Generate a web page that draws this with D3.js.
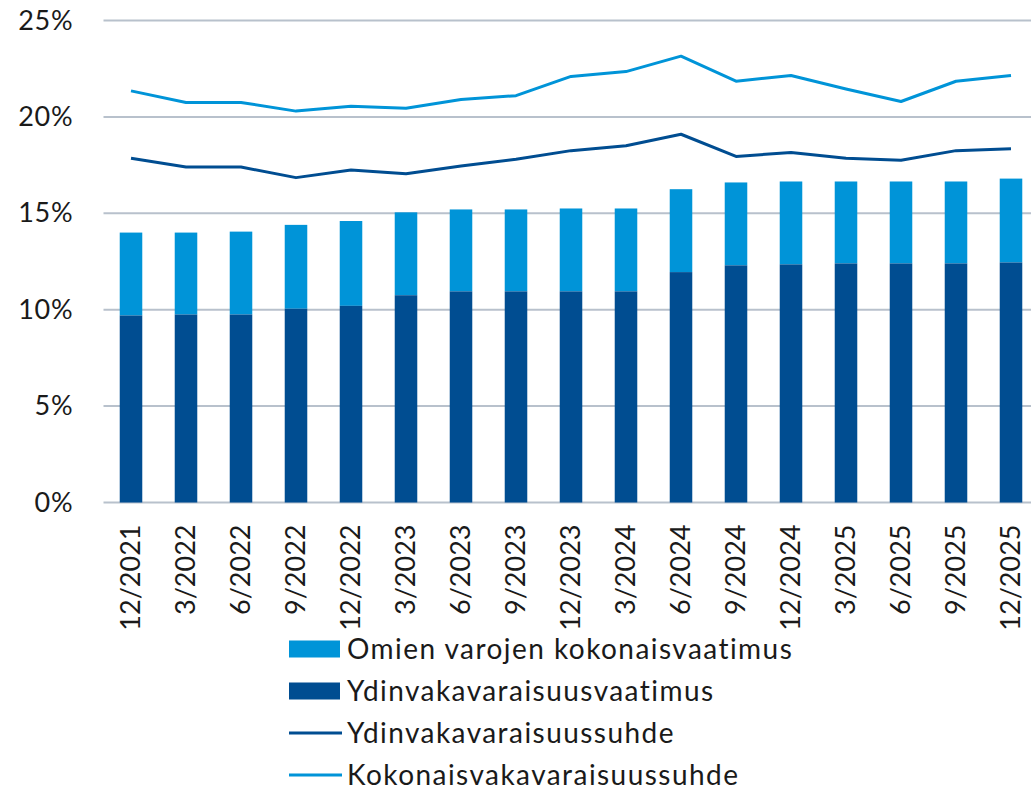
<!DOCTYPE html>
<html>
<head>
<meta charset="utf-8">
<script src="https://cdn.jsdelivr.net/npm/d3@7"></script>
<style>
  body { margin:0; background:#fff; }
  svg text { font-family: Lato, "Open Sans", sans-serif; fill:#1a1a1a; }
</style>
</head>
<body>
<svg id="chart"></svg>
<script>
var categories = ["12/2021","3/2022","6/2022","9/2022","12/2022","3/2023","6/2023","9/2023",
    "12/2023","3/2024","6/2024","9/2024","12/2024","3/2025","6/2025","9/2025","12/2025"];

// Ydinvakavaraisuusvaatimus (dark bar)
var coreReq = [9.7,9.75,9.75,10.05,10.2,10.75,10.95,10.95,10.95,10.95,11.95,12.3,12.35,12.4,12.4,12.4,12.45];
// Omien varojen kokonaisvaatimus (bar top, total)
var totalReq = [14.0,14.0,14.05,14.4,14.6,15.05,15.2,15.2,15.25,15.25,16.25,16.6,16.65,16.65,16.65,16.65,16.8];
// Ydinvakavaraisuussuhde
var coreRatio = [17.85,17.4,17.4,16.85,17.25,17.05,17.45,17.8,18.25,18.5,19.1,17.95,18.15,17.85,17.75,18.25,18.35];
// Kokonaisvakavaraisuussuhde
var totalRatio = [21.35,20.75,20.75,20.3,20.55,20.45,20.9,21.1,22.1,22.35,23.15,21.85,22.15,21.45,20.8,21.85,22.15];

var yTicks = [0,5,10,15,20,25];

var legendItems = [
    {label:"Omien varojen kokonaisvaatimus", type:"rect", color:"#0094d8"},
    {label:"Ydinvakavaraisuusvaatimus", type:"rect", color:"#004d91"},
    {label:"Ydinvakavaraisuussuhde", type:"line", color:"#004d91"},
    {label:"Kokonaisvakavaraisuussuhde", type:"line", color:"#0094d8"}
];

var screen = {width:1031, height:791};
var margins = {top:20.5, left:103.5};
var graph = {width:935, height:482};

var svg = d3.select("#chart")
    .attr("width",screen.width)
    .attr("height",screen.height);

var g = svg.append("g")
    .attr("transform","translate("+margins.left+","+margins.top+")");

var xScale = d3.scaleBand()
    .domain(categories)
    .range([0,graph.width])
    .paddingInner(0.59)
    .paddingOuter(0.295);

var yScale = d3.scaleLinear()
    .domain([0,25])
    .range([graph.height,0]);

// gridlines
g.append("g")
    .selectAll("line")
    .data(yTicks)
    .enter()
    .append("line")
    .attr("x1",0)
    .attr("x2",graph.width)
    .attr("y1",function(d){return yScale(d);})
    .attr("y2",function(d){return yScale(d);})
    .attr("stroke","#b8c1cc")
    .attr("stroke-width",2);

// y axis labels
var yAxis = d3.axisLeft(yScale)
    .tickValues(yTicks)
    .tickSize(0)
    .tickPadding(30)
    .tickFormat(function(d){return d+"%";});

var ya = g.append("g").call(yAxis);
ya.select(".domain").remove();
ya.selectAll("text")
    .style("font-size","27px")
    .style("letter-spacing","0.8px")
    .attr("font-family",null);

// bars
var bars = g.append("g");
bars.selectAll(".total")
    .data(categories)
    .enter()
    .append("rect")
    .attr("x",function(d){return xScale(d);})
    .attr("width",xScale.bandwidth())
    .attr("y",function(d,i){return yScale(totalReq[i]);})
    .attr("height",function(d,i){return yScale(coreReq[i])-yScale(totalReq[i]);})
    .attr("fill","#0094d8");

bars.selectAll(".core")
    .data(categories)
    .enter()
    .append("rect")
    .attr("x",function(d){return xScale(d);})
    .attr("width",xScale.bandwidth())
    .attr("y",function(d,i){return yScale(coreReq[i]);})
    .attr("height",function(d,i){return graph.height-yScale(coreReq[i]);})
    .attr("fill","#004d91");

// lines
var lineFor = function(values)
{
    return d3.line()
        .x(function(d,i){return xScale(categories[i])+xScale.bandwidth()/2;})
        .y(function(d){return yScale(d);})(values);
}

g.append("path")
    .attr("d",lineFor(coreRatio))
    .attr("fill","none")
    .attr("stroke","#004d91")
    .attr("stroke-width",3)
    .attr("stroke-linejoin","round");

g.append("path")
    .attr("d",lineFor(totalRatio))
    .attr("fill","none")
    .attr("stroke","#0094d8")
    .attr("stroke-width",3)
    .attr("stroke-linejoin","round");

// x axis labels
var xAxis = d3.axisBottom(xScale).tickSize(0).tickPadding(0);
var xa = g.append("g")
    .attr("transform","translate(0,"+graph.height+")")
    .call(xAxis);
xa.select(".domain").remove();
xa.selectAll("text")
    .attr("font-family",null)
    .style("font-size","27px")
    .attr("text-anchor","end")
    .attr("dy","0.35em")
    .attr("y",0)
    .attr("transform","translate(0,22) rotate(-90)");

// legend
var legend = svg.append("g")
    .attr("transform","translate(289,649)");

var rows = legend.selectAll("g")
    .data(legendItems)
    .enter()
    .append("g")
    .attr("transform",function(d,i){return "translate(0,"+(i*42)+")";});

rows.filter(function(d){return d.type=="rect";})
    .append("rect")
    .attr("x",0).attr("y",-8.5)
    .attr("width",51).attr("height",17)
    .attr("fill",function(d){return d.color;});

rows.filter(function(d){return d.type=="line";})
    .append("line")
    .attr("x1",0).attr("x2",53)
    .attr("y1",0).attr("y2",0)
    .attr("stroke",function(d){return d.color;})
    .attr("stroke-width",3);

rows.append("text")
    .attr("x",58)
    .attr("y",0)
    .attr("dy","0.35em")
    .style("font-size","28px")
    .style("letter-spacing","1.45px")
    .text(function(d){return d.label;});
</script>
</body>
</html>
